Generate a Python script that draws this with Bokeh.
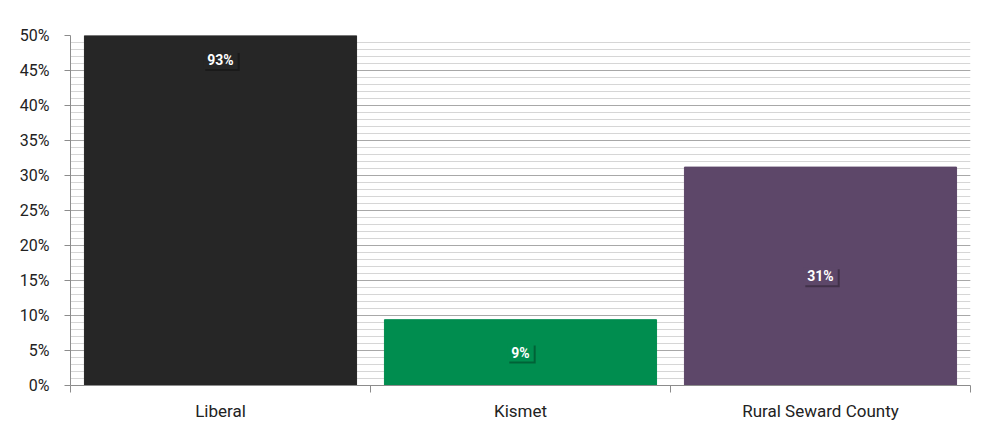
from bokeh.plotting import figure
from bokeh.models import Range1d, FixedTicker, ColumnDataSource
from bokeh.core.properties import value
from bokeh.embed import file_html
from bokeh.resources import INLINE

categories = ["Liberal", "Kismet", "Rural Seward County"]
shares = [93.0, 9.4, 31.2]
share_labels = ["93%", "9%", "31%"]
bar_colors = ["#262626", "#008D4F", "#5D4769"]
y_ticks = [0, 5, 10, 15, 20, 25, 30, 35, 40, 45, 50]
y_tick_labels = ["0%", "5%", "10%", "15%", "20%", "25%", "30%", "35%", "40%", "45%", "50%"]
y_minor = list(range(0, 51))

xs = [i + 0.5 for i in range(len(categories))]
src = ColumnDataSource(dict(
    x=xs, top=shares, color=bar_colors, label=share_labels,
    mid=[v / 2 for v in shares],
))

p = figure(width=975, height=423, x_range=Range1d(0, len(categories)), y_range=Range1d(0, 50),
           output_backend="svg", toolbar_location=None,
           min_border_left=70, min_border_right=5, min_border_top=35, min_border_bottom=37)
p.outline_line_color = None
p.background_fill_color = "white"

# grid
p.xgrid.visible = False
p.ygrid.ticker = FixedTicker(ticks=y_ticks, minor_ticks=y_minor)
p.ygrid.grid_line_color = "#a8a8a8"
p.ygrid.grid_line_width = 1
p.ygrid.minor_grid_line_color = "#d6d6d6"
p.ygrid.minor_grid_line_width = 1

p.vbar(x="x", top="top", width=0.907, color="color", source=src)

# shadow boxes
p.text(x="x", y="mid", text="label", source=src, x_offset=2, y_offset=2,
       text_align="center", text_baseline="middle", text_alpha=0,
       text_font=value("Roboto"), text_font_size="14px", text_font_style="bold",
       background_fill_color="black", background_fill_alpha=0.3, padding=(4, 1))
p.text(x="x", y="mid", text="label", source=src,
       text_align="center", text_baseline="middle", text_color="white",
       text_font=value("Roboto"), text_font_size="14px", text_font_style="bold",
       background_fill_color="color", padding=(4, 1))

# y axis
ya = p.yaxis[0]
ya.ticker = FixedTicker(ticks=y_ticks)
ya.major_label_overrides = {t: l for t, l in zip(y_ticks, y_tick_labels)}
ya.axis_line_color = "#8c8c8c"
ya.major_tick_line_color = "#8c8c8c"
ya.major_tick_out = 6
ya.major_tick_in = 0
ya.minor_tick_out = 0
ya.minor_tick_in = 0
ya.major_label_standoff = 15
ya.major_label_text_font = "Roboto"
ya.major_label_text_font_size = "16px"
ya.major_label_text_color = "#222222"

# x axis
xa = p.xaxis[0]
xa.ticker = FixedTicker(ticks=xs, minor_ticks=[0, 1, 2, 3])
xa.major_label_overrides = {x: c for x, c in zip(xs, categories)}
xa.axis_line_color = "#8c8c8c"
xa.major_tick_out = 0
xa.major_tick_in = 0
xa.minor_tick_out = 7
xa.minor_tick_in = 0
xa.minor_tick_line_color = "#8c8c8c"
xa.major_label_standoff = 8
xa.major_label_text_font = "Roboto"
xa.major_label_text_font_size = "17px"
xa.major_label_text_color = "#222222"

open("out.html", "w").write(file_html(p, INLINE))
